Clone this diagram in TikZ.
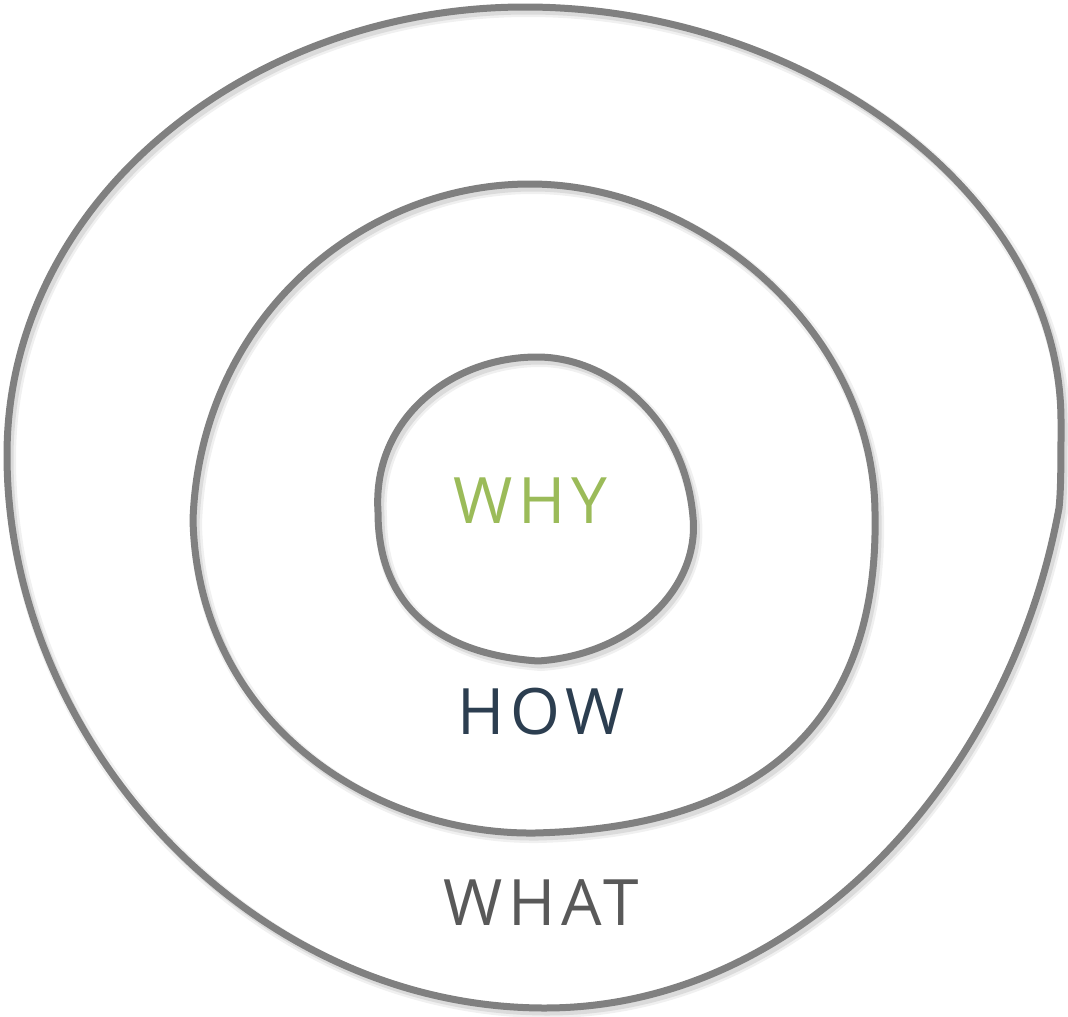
\documentclass[tikz,border=0pt]{standalone}
\usepackage{fontspec}
\newfontfamily\handfont[LetterSpace=9]{Open Sans}
\definecolor{loopgray}{HTML}{808080}
\definecolor{whygreen}{HTML}{9BBB59}
\definecolor{hownavy}{HTML}{2C3E50}
\definecolor{whatgray}{HTML}{595959}
\tikzset{
  loopline/.style={draw=loopgray, line width=7pt, line join=round, line cap=round,
    preaction={draw=black!6, line width=12pt, transform canvas={shift={(3pt,-4pt)}}},
    preaction={draw=black!14, line width=7pt, transform canvas={shift={(3pt,-4pt)}}}},
  label/.style={inner sep=0pt, font=\handfont\fontsize{64}{64}\selectfont}
}
\begin{document}
\begin{tikzpicture}[x=1pt,y=-1pt]
\useasboundingbox (0,0) rectangle (1068,1017);
% outer loop
\draw[loopline] (1059,508)
  .. controls (1010,778) and (800,1008) .. (545,1008)
  .. controls (250,1008) and (7,740) .. (7,455)
  .. controls (7,200) and (250,7) .. (525,7)
  .. controls (800,7) and (1060,190) .. (1061,420)
  .. controls (1061,460) and (1061,490) .. (1059,508) -- cycle;
% middle loop
\draw[loopline] (193,520)
  .. controls (198,720) and (370,835) .. (535,833)
  .. controls (740,828) and (880,740) .. (875,512)
  .. controls (873,330) and (700,184) .. (530,184)
  .. controls (360,184) and (200,320) .. (193,520) -- cycle;
% inner loop
\draw[loopline] (378,512)
  .. controls (378,615) and (450,655) .. (538,661)
  .. controls (630,655) and (700,590) .. (693,517)
  .. controls (685,420) and (610,357) .. (537,357)
  .. controls (450,357) and (372,420) .. (378,512) -- cycle;
\node[label, text=whygreen] (why) at (530,501) {WHY};
\node[label, text=hownavy] (how) at (541,712) {HOW};
\node[label, text=whatgray] (what) at (541,903) {WHAT};
\end{tikzpicture}
\end{document}
